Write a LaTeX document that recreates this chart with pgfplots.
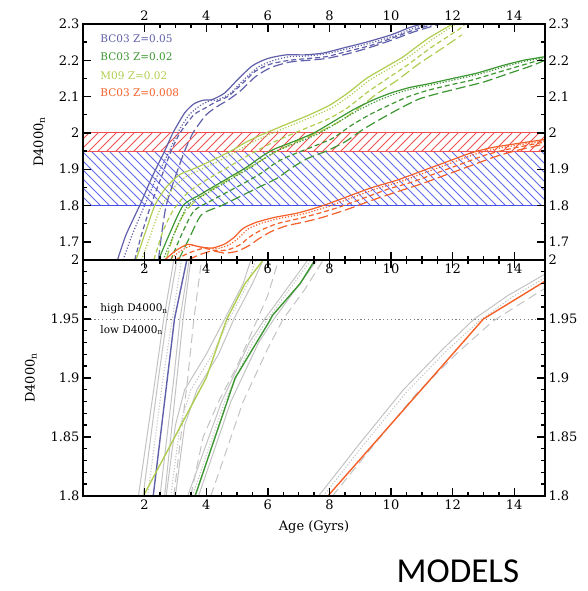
\documentclass[border=0pt]{standalone}
\usepackage{pgfplots}
\pgfplotsset{compat=1.18}
\usepackage{fontspec}
\setmainfont{DejaVu Serif}
\newfontfamily\modelsf{Carlito}
\usetikzlibrary{patterns}
\pgfdeclarepatternformonly{wideNE}{\pgfqpoint{-1pt}{-1pt}}{\pgfqpoint{10pt}{10pt}}{\pgfqpoint{9pt}{9pt}}{%
  \pgfsetlinewidth{0.75pt}\pgfpathmoveto{\pgfqpoint{-0.1pt}{-0.1pt}}\pgfpathlineto{\pgfqpoint{9.1pt}{9.1pt}}\pgfusepath{stroke}}
\pgfdeclarepatternformonly{wideNW}{\pgfqpoint{-1pt}{-1pt}}{\pgfqpoint{10pt}{10pt}}{\pgfqpoint{9pt}{9pt}}{%
  \pgfsetlinewidth{0.75pt}\pgfpathmoveto{\pgfqpoint{-0.1pt}{9.1pt}}\pgfpathlineto{\pgfqpoint{9.1pt}{-0.1pt}}\pgfusepath{stroke}}
\definecolor{cblue}{RGB}{95,95,170}
\definecolor{cgreen}{RGB}{60,150,50}
\definecolor{cyel}{RGB}{175,205,80}
\definecolor{corange}{RGB}{245,95,40}
\definecolor{hred}{RGB}{240,80,80}
\definecolor{hblue}{RGB}{70,80,235}
\definecolor{cgray}{RGB}{195,195,195}
\pgfplotsset{
  base/.style={scale only axis, width=462pt, height=236pt, xmin=0, xmax=15,
    xtick={2,4,6,8,10,12,14}, minor x tick num=3,
    tick align=inside, axis on top,
    major tick length=8pt, minor tick length=4pt,
    every tick/.append style={black, line width=1.4pt},
    axis line style={black, line width=1.8pt},
    ticklabel style={font=\fontsize{13}{14}\selectfont},
    /pgf/number format/assume math mode=true},
  toppanel/.style={base, at={(83pt,331pt)}, anchor=south west, ymin=1.65, ymax=2.3,
    ytick={1.7,1.8,1.9,2,2.1,2.2,2.3}, minor y tick num=1},
  botpanel/.style={base, at={(83pt,95pt)}, anchor=south west, ymin=1.8, ymax=2.0,
    ytick={1.8,1.85,1.9,1.95,2}, minor y tick num=4},
  sol/.style={line width=1.2pt, smooth, tension=0.4},
  dot/.style={line width=1.2pt, dash pattern=on 1.2pt off 1.8pt, smooth, tension=0.4},
  sda/.style={line width=1.2pt, dash pattern=on 5pt off 3pt, smooth, tension=0.4},
  lda/.style={line width=1.2pt, dash pattern=on 10pt off 4pt, smooth, tension=0.4},
  gsol/.style={cgray, line width=1pt},
  gdot/.style={cgray, line width=1pt, dash pattern=on 1.2pt off 1.8pt},
  gdash/.style={cgray, line width=1pt, dash pattern=on 9pt off 5pt},
}
\begin{document}
\begin{tikzpicture}
% ---------------- top panel ----------------
\begin{axis}[toppanel,
  ylabel={D4000\textsubscript{n}},
  ylabel style={at={(axis description cs:-0.095,0.5)}, anchor=center, font=\fontsize{13}{14}\selectfont}]
\addplot[draw=hblue, line width=1pt, pattern=wideNW, pattern color=hblue!85]
  coordinates {(0,1.8)(15,1.8)(15,1.95)(0,1.95)} -- cycle;
\addplot[draw=hred, line width=1pt, pattern=wideNE, pattern color=hred]
  coordinates {(0,1.95)(15,1.95)(15,2.0)(0,2.0)} -- cycle;
% BC03 Z=0.05
\addplot[cblue, sol] coordinates {(1.12,1.65)(1.4,1.72)(1.84,1.80)(2.25,1.88)(2.65,1.95)(2.92,2.0)(3.3,2.055)(3.6,2.08)(3.9,2.09)(4.2,2.092)(4.6,2.11)(5.0,2.145)(5.5,2.185)(6.0,2.205)(6.6,2.215)(7.2,2.215)(7.8,2.22)(8.5,2.235)(9.2,2.25)(10.0,2.27)(10.6,2.29)(11.0,2.30)};
\addplot[cblue, dot] coordinates {(1.3,1.65)(1.6,1.72)(2.0,1.80)(2.4,1.88)(2.8,1.95)(3.07,2.0)(3.45,2.05)(3.8,2.075)(4.1,2.088)(4.4,2.092)(4.8,2.11)(5.2,2.145)(5.7,2.182)(6.2,2.2)(6.7,2.21)(7.3,2.212)(7.9,2.218)(8.6,2.232)(9.3,2.247)(10.1,2.267)(10.7,2.287)(11.2,2.30)};
\addplot[cblue, sda] coordinates {(1.68,1.65)(1.9,1.72)(2.2,1.80)(2.55,1.88)(2.86,1.95)(3.15,2.0)(3.6,2.05)(4.0,2.07)(4.3,2.085)(4.7,2.1)(5.1,2.13)(5.6,2.17)(6.1,2.19)(6.7,2.2)(7.3,2.205)(7.9,2.21)(8.6,2.225)(9.3,2.24)(10,2.26)(10.8,2.285)(11.4,2.30)};
\addplot[cblue, lda] coordinates {(2.45,1.65)(2.55,1.72)(2.7,1.80)(3.0,1.88)(3.3,1.95)(3.57,2.0)(4.0,2.05)(4.4,2.075)(4.7,2.09)(5.1,2.115)(5.6,2.155)(6.1,2.18)(6.7,2.195)(7.3,2.2)(7.9,2.205)(8.6,2.218)(9.3,2.235)(10,2.255)(10.8,2.28)(11.6,2.30)};
% M09 Z=0.02
\addplot[cyel, sol] coordinates {(1.72,1.65)(2.0,1.72)(2.33,1.8)(2.7,1.85)(3.14,1.885)(3.7,1.905)(4.2,1.925)(4.8,1.95)(5.3,1.975)(5.8,1.995)(6.5,2.02)(7.3,2.048)(8.0,2.076)(8.6,2.11)(9.2,2.15)(9.8,2.18)(10.4,2.21)(11.2,2.26)(12.0,2.30)};
\addplot[cyel, dot] coordinates {(1.9,1.65)(2.2,1.72)(2.5,1.79)(2.9,1.845)(3.35,1.88)(3.85,1.9)(4.35,1.92)(4.9,1.945)(5.4,1.97)(5.9,1.99)(6.6,2.015)(7.4,2.043)(8.1,2.07)(8.7,2.105)(9.3,2.145)(9.9,2.175)(10.5,2.205)(11.3,2.255)(12.1,2.30)};
\addplot[cyel, sda] coordinates {(2.3,1.65)(2.6,1.73)(2.95,1.79)(3.4,1.835)(3.9,1.865)(4.4,1.89)(4.9,1.915)(5.4,1.94)(6.0,1.967)(6.6,1.99)(7.3,2.015)(8.0,2.04)(8.6,2.07)(9.2,2.11)(9.8,2.145)(10.5,2.185)(11.3,2.235)(12.2,2.285)(12.4,2.30)};
\addplot[cyel, lda] coordinates {(2.7,1.65)(2.95,1.72)(3.3,1.78)(3.75,1.82)(4.3,1.85)(4.8,1.875)(5.3,1.9)(5.8,1.925)(6.3,1.95)(6.9,1.975)(7.6,2.0)(8.3,2.03)(8.9,2.065)(9.5,2.105)(10.2,2.145)(10.9,2.19)(11.7,2.235)(12.3,2.27)};
% BC03 Z=0.02
\addplot[cgreen, sol] coordinates {(2.45,1.65)(2.8,1.72)(3.25,1.80)(3.8,1.83)(4.3,1.855)(4.8,1.88)(5.3,1.905)(5.8,1.935)(6.2,1.955)(6.8,1.975)(7.5,2.0)(8.2,2.035)(8.8,2.065)(9.4,2.09)(10.0,2.11)(10.6,2.125)(11.2,2.135)(12.0,2.15)(12.8,2.165)(13.6,2.185)(14.3,2.2)(15,2.21)};
\addplot[cgreen, dot] coordinates {(2.6,1.65)(2.95,1.72)(3.4,1.80)(3.95,1.83)(4.45,1.855)(4.95,1.88)(5.45,1.905)(5.95,1.933)(6.35,1.953)(6.95,1.973)(7.65,1.998)(8.35,2.033)(8.95,2.063)(9.55,2.088)(10.15,2.108)(10.75,2.123)(11.35,2.133)(12.15,2.148)(12.95,2.164)(13.75,2.184)(14.45,2.199)(15,2.207)};
\addplot[cgreen, sda] coordinates {(2.85,1.65)(3.2,1.72)(3.6,1.785)(4.2,1.815)(4.75,1.84)(5.3,1.865)(5.8,1.89)(6.3,1.92)(6.8,1.94)(7.4,1.96)(8.1,1.985)(8.7,2.02)(9.3,2.05)(9.9,2.075)(10.5,2.098)(11.1,2.115)(11.8,2.13)(12.6,2.145)(13.4,2.165)(14.2,2.185)(15,2.205)};
\addplot[cgreen, lda] coordinates {(3.1,1.65)(3.45,1.71)(3.85,1.775)(4.5,1.8)(5.1,1.825)(5.7,1.85)(6.3,1.875)(6.8,1.905)(7.3,1.93)(7.9,1.95)(8.5,1.975)(9.1,2.01)(9.7,2.04)(10.3,2.068)(10.9,2.093)(11.5,2.108)(12.2,2.123)(13.0,2.14)(13.8,2.163)(14.5,2.183)(15,2.2)};
% BC03 Z=0.008
\addplot[corange, sol] coordinates {(2.65,1.65)(3.0,1.675)(3.4,1.693)(3.8,1.686)(4.2,1.683)(4.6,1.694)(4.9,1.712)(5.2,1.737)(5.6,1.753)(6.2,1.767)(7.0,1.78)(7.8,1.80)(8.6,1.825)(9.4,1.85)(10.2,1.87)(11.0,1.895)(11.8,1.92)(12.6,1.945)(13.3,1.96)(14.2,1.972)(15,1.982)};
\addplot[corange, dot] coordinates {(2.8,1.65)(3.15,1.674)(3.55,1.69)(3.95,1.683)(4.35,1.681)(4.75,1.692)(5.05,1.71)(5.35,1.735)(5.75,1.75)(6.35,1.764)(7.15,1.777)(7.95,1.797)(8.75,1.822)(9.55,1.847)(10.35,1.867)(11.15,1.892)(11.95,1.917)(12.75,1.942)(13.45,1.957)(14.3,1.969)(15,1.978)};
\addplot[corange, sda] coordinates {(3.0,1.65)(3.4,1.668)(3.9,1.682)(4.3,1.676)(4.7,1.678)(5.1,1.692)(5.4,1.713)(5.8,1.733)(6.3,1.75)(6.9,1.762)(7.5,1.775)(8.3,1.795)(9.1,1.82)(9.9,1.845)(10.7,1.865)(11.5,1.89)(12.3,1.915)(13.1,1.94)(13.8,1.955)(14.5,1.967)(15,1.975)};
\addplot[corange, lda] coordinates {(3.4,1.65)(3.8,1.665)(4.2,1.675)(4.6,1.669)(5.0,1.674)(5.4,1.69)(5.7,1.708)(6.1,1.728)(6.6,1.744)(7.2,1.755)(7.8,1.768)(8.6,1.79)(9.4,1.815)(10.2,1.838)(11.0,1.86)(11.8,1.885)(12.6,1.91)(13.4,1.935)(14.1,1.952)(15,1.97)};
% legend text
\node[anchor=west, text=cblue, font=\fontsize{10.5}{12}\selectfont] at (axis cs:0.45,2.259) {BC03 Z=0.05};
\node[anchor=west, text=cgreen, font=\fontsize{10.5}{12}\selectfont] at (axis cs:0.45,2.209) {BC03 Z=0.02};
\node[anchor=west, text=cyel, font=\fontsize{10.5}{12}\selectfont] at (axis cs:0.45,2.159) {M09 Z=0.02};
\node[anchor=west, text=corange, font=\fontsize{10.5}{12}\selectfont] at (axis cs:0.45,2.110) {BC03 Z=0.008};
\end{axis}
\begin{axis}[toppanel, xticklabel pos=upper, yticklabel pos=right]
\end{axis}
% ---------------- bottom panel ----------------
\begin{axis}[botpanel,
  xlabel={Age (Gyrs)},
  xlabel style={at={(axis description cs:0.5,-0.131)}, anchor=center, font=\fontsize{13}{14}\selectfont},
  ylabel={D4000\textsubscript{n}},
  ylabel style={at={(axis description cs:-0.113,0.5)}, anchor=center, font=\fontsize{13}{14}\selectfont}]
\addplot[gray, line width=0.8pt, dash pattern=on 1.2pt off 2.6pt] coordinates {(0,1.95)(15,1.95)};
% gray variants, Z=0.05
\addplot[gsol] coordinates {(1.8,1.8)(2.35,1.9)(2.62,1.95)(2.95,2.0)};
\addplot[gsol] coordinates {(1.95,1.8)(2.45,1.9)(2.72,1.95)(3.05,2.0)};
\addplot[gdot] coordinates {(2.1,1.8)(2.6,1.9)(2.9,1.95)(3.2,2.0)};
\addplot[gsol] coordinates {(2.5,1.8)(2.95,1.9)(3.15,1.95)(3.45,2.0)};
\addplot[gsol] coordinates {(2.65,1.8)(3.05,1.9)(3.25,1.95)(3.5,2.0)};
\addplot[gdash] coordinates {(2.95,1.8)(3.4,1.9)(3.6,1.95)(3.85,2.0)};
% gray variants, M09
\addplot[gsol] coordinates {(2.7,1.8)(3.0,1.86)(3.3,1.89)(4.0,1.92)(4.6,1.95)(5.2,1.98)(5.45,2.0)};
\addplot[gdot] coordinates {(2.85,1.8)(3.15,1.86)(3.5,1.89)(4.2,1.92)(4.75,1.95)(5.35,1.98)(5.6,2.0)};
\addplot[gsol] coordinates {(3.0,1.8)(3.3,1.86)(3.7,1.89)(4.4,1.92)(4.9,1.95)(5.5,1.98)(5.85,2.0)};
\addplot[gdash] coordinates {(3.5,1.8)(3.9,1.85)(4.4,1.88)(5.0,1.91)(5.5,1.94)(6.0,1.97)(6.35,2.0)};
% gray variants, BC03 Z=0.02
\addplot[gsol] coordinates {(3.4,1.8)(4.5,1.88)(5.4,1.93)(5.9,1.95)(6.6,1.975)(7.3,2.0)};
\addplot[gdot] coordinates {(3.55,1.8)(4.6,1.88)(5.5,1.93)(6.0,1.95)(6.7,1.975)(7.4,2.0)};
\addplot[gsol] coordinates {(3.75,1.8)(4.8,1.88)(5.7,1.93)(6.2,1.95)(6.9,1.975)(7.6,2.0)};
\addplot[gdash] coordinates {(4.15,1.8)(5.2,1.88)(6.0,1.925)(6.5,1.95)(7.2,1.975)(7.8,2.0)};
% gray variants, BC03 Z=0.008
\addplot[gsol] coordinates {(7.65,1.8)(9.0,1.845)(10.4,1.89)(11.7,1.925)(12.7,1.95)(13.8,1.97)(15,1.988)};
\addplot[gdot] coordinates {(7.8,1.8)(9.1,1.843)(10.5,1.888)(11.8,1.923)(12.85,1.948)(13.9,1.968)(15,1.985)};
\addplot[gdash] coordinates {(8.1,1.8)(9.4,1.842)(10.8,1.886)(12.1,1.92)(13.3,1.948)(14.2,1.963)(15,1.976)};
% coloured models
\addplot[cblue, line width=1.4pt] coordinates {(2.28,1.8)(2.97,1.95)(3.37,2.0)};
\addplot[cyel, line width=1.4pt] coordinates {(1.96,1.8)(4.0,1.9)(4.67,1.95)(5.26,1.98)(5.85,2.0)};
\addplot[cgreen, line width=1.4pt] coordinates {(3.64,1.8)(4.94,1.9)(6.05,1.948)(6.15,1.953)(7.05,1.98)(7.53,2.0)};
\addplot[corange, line width=1.4pt] coordinates {(7.95,1.8)(13.0,1.95)(15,1.982)};
\node[anchor=west, font=\fontsize{10.5}{12}\selectfont] at (axis cs:0.45,1.9585) {high D4000\textsubscript{n}};
\node[anchor=west, font=\fontsize{10.5}{12}\selectfont] at (axis cs:0.45,1.9407) {low D4000\textsubscript{n}};
\end{axis}
\begin{axis}[botpanel, xticklabels={}, yticklabel pos=right]
\end{axis}
\node[font=\modelsf\fontsize{35}{38}\selectfont] at (458pt,20pt) {MODELS};
\path (0,0) rectangle (587pt,591pt);
\end{tikzpicture}
\end{document}
